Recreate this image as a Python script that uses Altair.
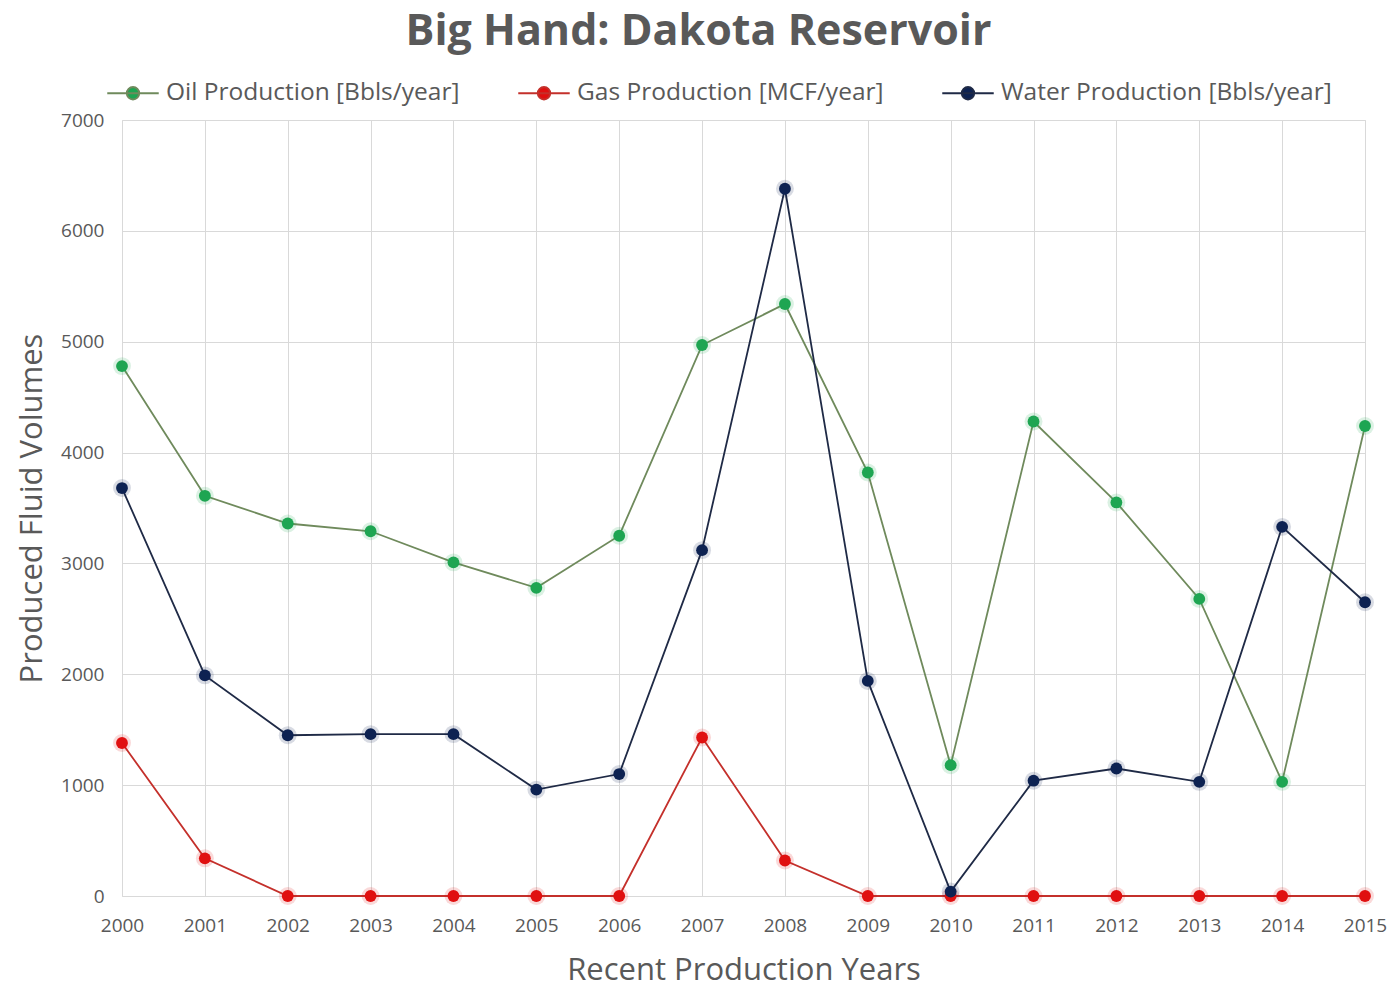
import altair as alt
import pandas as pd

# Annual production, Big Hand field, Dakota reservoir
years = list(range(2000, 2016))
oil = [4780, 3610, 3360, 3290, 3010, 2780, 3250, 4970, 5340, 3820, 1180, 4280, 3550, 2680, 1030, 4240]
gas = [1380, 340, 0, 0, 0, 0, 0, 1430, 320, 0, 0, 0, 0, 0, 0, 0]
water = [3680, 1990, 1450, 1460, 1460, 960, 1100, 3120, 6380, 1940, 40, 1040, 1150, 1030, 3330, 2650]

series_names = [
    "Oil Production [Bbls/year]",
    "Gas Production [MCF/year]",
    "Water Production [Bbls/year]",
]
line_colors = ["#6f8a5c", "#c4302b", "#1f2a46"]
marker_colors = ["#1ea552", "#e01010", "#0d2252"]

rows = []
for name, vals in zip(series_names, [oil, gas, water]):
    for yr, v in zip(years, vals):
        rows.append({"year": yr, "volume": v, "series": name})
df = pd.DataFrame(rows)

FONT = "Open Sans"
TXT = "#595959"

legend_symbol = "M-1,0L1,0M0.24,0A0.24,0.24,0,1,1,-0.24,0A0.24,0.24,0,1,1,0.24,0Z"
legend = alt.Legend(
    title=None,
    orient="none",
    direction="horizontal",
    legendX=-16,
    legendY=-54,
    symbolType=legend_symbol,
    symbolSize=2650,
    symbolStrokeWidth=2,
    symbolOpacity=1,
    labelFont=FONT,
    labelFontSize=24.5,
    labelColor=TXT,
    labelOffset=6,
    labelLimit=0,
    columnPadding=54,
    padding=0,
)

x_enc = alt.X(
    "year:Q",
    scale=alt.Scale(domain=[2000, 2015], nice=False, zero=False),
    axis=alt.Axis(
        values=years,
        format="d",
        title="Recent Production Years",
        titleFont=FONT,
        titleFontSize=31,
        titleFontWeight="normal",
        titleColor=TXT,
        titlePadding=20,
        labelFont=FONT,
        labelFontSize=19,
        labelColor=TXT,
        labelPadding=20,
        labelFlush=False,
        labelOverlap=False,
        ticks=False,
        tickSize=0,
        domain=False,
        grid=True,
        gridColor="#d9d9d9",
        gridWidth=1,
    ),
)
y_enc = alt.Y(
    "volume:Q",
    scale=alt.Scale(domain=[0, 7000], nice=False),
    axis=alt.Axis(
        values=list(range(0, 7001, 1000)),
        format="d",
        title="Produced Fluid Volumes",
        titleFont=FONT,
        titleFontSize=31,
        titleFontWeight="normal",
        titleColor=TXT,
        titlePadding=12,
        labelFont=FONT,
        labelFontSize=19,
        labelColor=TXT,
        labelPadding=18,
        ticks=False,
        tickSize=0,
        domain=False,
        grid=True,
        gridColor="#d9d9d9",
        gridWidth=1,
    ),
)

stroke_scale = alt.Scale(domain=series_names, range=line_colors)
fill_scale = alt.Scale(domain=series_names, range=marker_colors)

lines = alt.Chart(df).mark_line(strokeWidth=1.8).encode(
    x=x_enc,
    y=y_enc,
    stroke=alt.Stroke("series:N", scale=stroke_scale, legend=legend),
    detail="series:N",
)

# soft glow under each marker
halo = alt.Chart(df).mark_point(filled=True, size=320, opacity=0.16).encode(
    x="year:Q",
    y="volume:Q",
    fill=alt.Fill("series:N", scale=fill_scale, legend=legend),
)

markers = alt.Chart(df).mark_point(filled=True, size=140, opacity=1).encode(
    x="year:Q",
    y="volume:Q",
    fill=alt.Fill("series:N", scale=fill_scale, legend=legend),
)

chart = (
    alt.layer(lines, halo, markers)
    .properties(
        width=1243,
        height=776,
        title=alt.TitleParams(
            "Big Hand: Dakota Reservoir",
            font=FONT,
            fontSize=43,
            fontWeight="bold",
            color=TXT,
            anchor="middle",
            dx=-45,
            offset=12,
        ),
        autosize=alt.AutoSizeParams(type="none"),
        padding={"left": 122, "top": 120, "right": 31, "bottom": 91},
    )
    .configure_view(stroke=None)
    .configure(background="white")
)

chart.save("out.html", embed_options={"renderer": "svg", "actions": False})
